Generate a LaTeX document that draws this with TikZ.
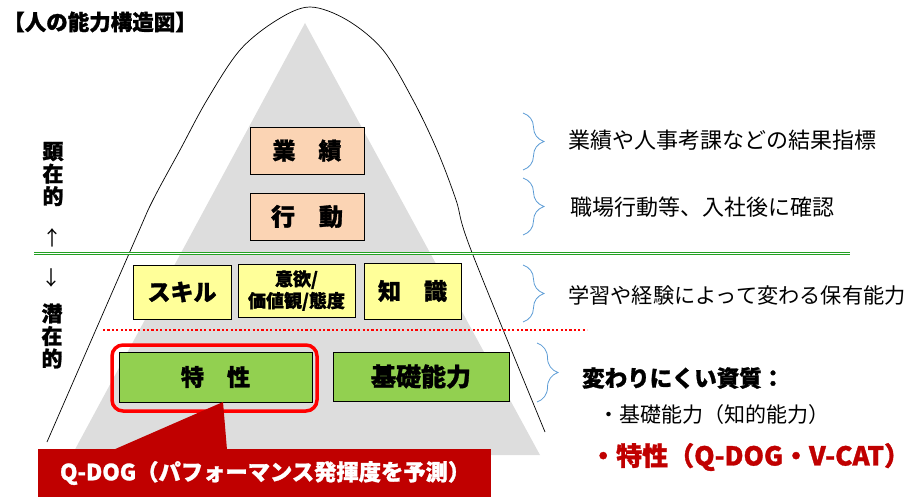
\documentclass[tikz,border=0pt]{standalone}
\usepackage{fontspec}
\newfontfamily\jp{Noto Sans CJK JP}[BoldFeatures={FakeBold=1.2}]
\usetikzlibrary{decorations.pathreplacing}
\definecolor{peach}{HTML}{FBD4B4}
\definecolor{paleyellow}{HTML}{FFFF99}
\definecolor{leafgreen}{HTML}{92D050}
\definecolor{pyramidgray}{HTML}{DDDDDD}
\definecolor{calloutred}{HTML}{C00000}
\definecolor{bracecol}{HTML}{5B9BD5}
\definecolor{linegreen}{HTML}{22A022}
\newcommand{\jpsize}[1]{\jp\fontsize{#1}{#1}\selectfont}
\newcommand{\jpbold}[1]{\jp\bfseries\fontsize{#1}{#1}\selectfont}

\begin{document}
\begin{tikzpicture}[x=1pt,y=-1pt,
		box/.style={draw=black,line width=0.8pt,inner sep=0pt},
		curly/.style={draw=bracecol,line width=0.8pt,decorate,
			decoration={brace,amplitude=21pt,aspect=0.5}},
		note/.style={anchor=west,inner sep=0pt,font=\jpsize{22}}]
		\useasboundingbox (0,0) rectangle (917,503);
		
		%% Pyramid and bell curve
		\fill[pyramidgray] (305,23) -- (540,455) -- (72,455) -- cycle;
		\draw[line width=0.7pt] plot[smooth,tension=0.55] coordinates {
			(47,442) (135,240) (153,200) (180,150) (207,100) (240,50) (277,20) (310,7)
			(347,20) (383,50) (413,100) (437,150) (456,200) (471,250) (545,432)};
		
		%% Border visible / latent
		\draw[linegreen,line width=0.7pt,double=white,double distance=1.6pt] (34,253.5) -- (850,253.5);
		\draw[red,line width=2.2pt,dash pattern=on 2.2pt off 2.2pt] (103,330) -- (587,330);
		
		%% Title and side labels
		\node[inner sep=0pt,font=\jpbold{21.5}] (title) at (100,22) {【人の能力構造図】};
		\node[align=center,inner sep=0pt,font=\jpbold{21}] (kenzai) at (53,174) {顕\\[1.5pt]在\\[1.5pt]的};
		\node[inner sep=0pt,font=\jpsize{20}] (up) at (52,238) {↑};
		\node[inner sep=0pt,font=\jpsize{20}] (down) at (51,278) {↓};
		\node[align=center,inner sep=0pt,font=\jpbold{21}] (senzai) at (52,336) {潜\\[1.5pt]在\\[1.5pt]的};
		
		%% Boxes
		\node[box,fill=peach,minimum width=114pt,minimum height=47pt,font=\jpbold{23}] (gyoseki) at (307,150.5) {業　績};
		\node[box,fill=peach,minimum width=114pt,minimum height=47pt,font=\jpbold{24}] (kodo) at (307,216.5) {行　動};
		\node[box,fill=paleyellow,minimum width=98pt,minimum height=54pt,font=\jpbold{23}] (skill) at (182,292) {スキル};
		\node[box,fill=paleyellow,minimum width=117pt,minimum height=53pt,align=center,font=\jpbold{18}] (iyoku) at (296.5,290.5) {意欲/\\[2pt]価値観/態度};
		\node[box,fill=paleyellow,minimum width=97pt,minimum height=56pt,font=\jpbold{23}] (chishiki) at (412.5,291) {知　識};
		\node[box,fill=leafgreen,minimum width=193pt,minimum height=50pt,font=\jpbold{23}] (tokusei) at (215.5,377) {特　性};
		\node[box,fill=leafgreen,minimum width=176pt,minimum height=49pt,font=\jpbold{25}] (kiso) at (421,376.5) {基礎能力};
		\node[draw=red,line width=3.5pt,rounded corners=11pt,minimum width=205pt,minimum height=66pt] (frame) at (214.5,378) {};
		
		%% Callout
		\coordinate (tip) at (223,402);
		\fill[calloutred] (113,450) -- (tip) -- (227,450) -- cycle;
		\node[fill=calloutred,minimum width=453pt,minimum height=48pt,inner xsep=22pt,text width=409pt,
		align=left,text=white,font=\jpbold{22.3}] (qdog) at (264.5,473) {Q-DOG（パフォーマンス発揮度を予測）};
		
		%% Braces and notes
		\draw[curly] (523,113) -- (523,170);
		\draw[curly] (523,178) -- (523,235);
		\draw[curly] (523,265) -- (523,322);
		\draw[curly] (537,343) -- (537,402);
		\node[note] (result) at (568,140) {業績や人事考課などの結果指標};
		\node[note] (confirm) at (570,207) {職場行動等、入社後に確認};
		\node[note,font=\jpsize{21.2}] (holding) at (568,295) {学習や経験によって変わる保有能力};
		\node[note,font=\jpbold{22.5}] (shishitsu) at (582,378) {変わりにくい資質：};
		\node[note,font=\jpsize{21}] (chiteki) at (598,415) {・基礎能力（知的能力）};
		\node[note,text=calloutred,font=\jpbold{26}] (tokuseinote) at (590,457) {・特性（Q-DOG・V-CAT）};
	\end{tikzpicture}
\end{document}
